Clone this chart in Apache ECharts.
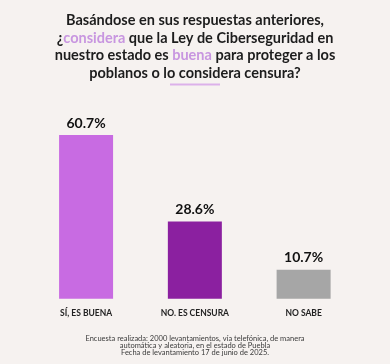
<!DOCTYPE html>
<html><head><meta charset="utf-8">
<script src="https://cdn.jsdelivr.net/npm/echarts@6/dist/echarts.min.js"></script>
<style>html,body{margin:0;padding:0;background:#f6f2f0;}#c{width:390px;height:364px;}</style>
</head><body><div id="c"></div>
<script>
const categories = ['SÍ, ES BUENA', 'NO. ES CENSURA', 'NO SABE'];
const values = [60.7, 28.6, 10.7];
const barColors = ['#c86be2', '#8b20a0', '#a6a6a6'];
const footnote = 'Encuesta realizada: 2000 levantamientos, vía telefónica, de manera\nautomática y aleatoria, en el estado de Puebla\nFecha de levantamiento 17 de junio de 2025.';

const chart = echarts.init(document.getElementById('c'), null, {renderer: 'canvas'});
const titleFont = 'Lato';
chart.setOption({
  backgroundColor: '#f6f2f0',
  animation: false,
  title: {
    left: 'center', top: 7,
    text: '{b|Basándose en sus respuestas anteriores,}\n{b|¿}{p|considera}{b| que la Ley de Ciberseguridad en}\n{b|nuestro estado es }{p|buena}{b| para proteger a los}\n{b|poblanos o lo considera censura?}',
    textStyle: {
      lineHeight: 17.5,
      rich: {
        b: {fontFamily: titleFont, fontWeight: 'bold', fontSize: 14.5, color: '#1d1d1d', lineHeight: 17.5},
        p: {fontFamily: titleFont, fontWeight: 'bold', fontSize: 14.5, color: '#c896e0', lineHeight: 17.5}
      }
    }
  },
  graphic: [
    {type: 'rect', shape: {x: 170, y: 83.5, width: 50, height: 2}, style: {fill: '#dcb1ea'}},
    {type: 'text', left: 'center', top: 335, style: {text: footnote, fontFamily: 'Lato', fontSize: 7.5, lineHeight: 7, fill: '#3a3a3a', textAlign: 'center'}}
  ],
  grid: {left: 31.7, right: 32, top: 29, bottom: 65.3},
  xAxis: {
    type: 'category', data: categories,
    axisLine: {show: false}, axisTick: {show: false},
    axisLabel: {margin: 10, fontFamily: 'Lato', fontWeight: 'bold', fontSize: 8.5, color: '#222'}
  },
  yAxis: {type: 'value', min: 0, max: 100, show: false, splitLine: {show: false}},
  series: [{
    type: 'bar', barWidth: 54,
    data: values.map((v, i) => ({value: v, itemStyle: {color: barColors[i]}})),
    label: {show: true, position: 'top', distance: 5, formatter: p => p.value.toFixed(1) + '%',
      fontFamily: 'Lato', fontWeight: 'bold', fontSize: 14, color: '#111'}
  }]
});
</script></body></html>
